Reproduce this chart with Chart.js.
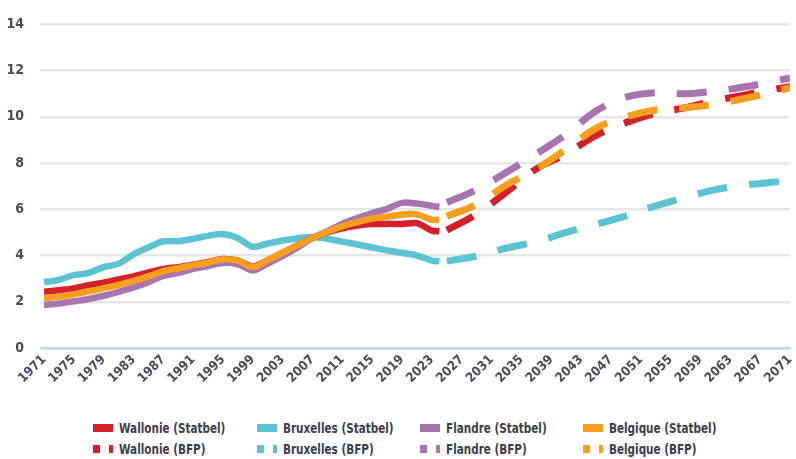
<!DOCTYPE html>
<html lang="fr">
<head>
<meta charset="UTF-8">
<title>Population en Belgique</title>
<script src="https://cdn.jsdelivr.net/npm/chart.js"></script>
<style>
    body {
        margin: 0;
        padding: 0;
        background: #ffffff;
        font-family: "Liberation Sans Narrow", "DejaVu Sans Condensed", "Roboto", sans-serif;
    }
    .wrap {
        position: relative;
        width: 796px;
        height: 459px;
    }
    #chart {
        position: absolute;
        left: 0;
        top: 0;
    }
    .legend-item {
        position: absolute;
        display: flex;
        align-items: center;
        font-weight: bold;
        font-size: 14.5px;
        color: #3e3d4b;
        white-space: nowrap;
    }
    .legend-item .txt {
        display: inline-block;
        transform: scaleX(0.8);
        transform-origin: left center;
    }
    .mark {
        position: relative;
        width: 20px;
        height: 8px;
        margin-right: 6px;
    }
    .mark span {
        position: absolute;
        top: 0;
        height: 8px;
    }
</style>
</head>
<body>
<div class="wrap">
    <canvas id="chart" width="796" height="400"></canvas>
    <div id="legend"></div>
</div>

<script>
// observed series (Statbel)
const statbelYears = [1971, 1973, 1975, 1977, 1979, 1981, 1983, 1985, 1987, 1989, 1991, 1993, 1995, 1997,
    1999, 2001, 2003, 2005, 2007, 2009, 2011, 2013, 2015, 2017, 2019, 2021, 2023, 2024];
const walStatbel = [2.43, 2.50, 2.58, 2.72, 2.83, 2.97, 3.10, 3.27, 3.42, 3.50, 3.60, 3.72, 3.85, 3.78,
    3.52, 3.80, 4.12, 4.45, 4.76, 5.00, 5.18, 5.30, 5.36, 5.37, 5.37, 5.40, 5.08, 5.05];
const bxlStatbel = [2.85, 2.95, 3.15, 3.25, 3.50, 3.65, 4.05, 4.35, 4.62, 4.62, 4.72, 4.85, 4.93, 4.75,
    4.38, 4.52, 4.65, 4.75, 4.80, 4.72, 4.60, 4.48, 4.35, 4.22, 4.12, 4.00, 3.78, 3.75];
const flaStatbel = [1.87, 1.92, 2.02, 2.12, 2.26, 2.43, 2.62, 2.85, 3.12, 3.25, 3.42, 3.55, 3.68, 3.62,
    3.35, 3.65, 3.98, 4.35, 4.76, 5.05, 5.38, 5.62, 5.84, 6.02, 6.28, 6.25, 6.15, 6.10];
const belStatbel = [2.16, 2.22, 2.33, 2.45, 2.59, 2.73, 2.90, 3.10, 3.33, 3.45, 3.58, 3.70, 3.84, 3.78,
    3.50, 3.80, 4.12, 4.45, 4.76, 5.02, 5.27, 5.45, 5.60, 5.68, 5.78, 5.78, 5.55, 5.55];

// projections (BFP)
const bfpYears = [2025, 2029, 2033, 2037, 2041, 2045, 2049, 2053, 2057, 2061, 2065, 2069, 2071];
const walBfp = [5.10, 5.80, 6.75, 7.75, 8.40, 9.20, 9.75, 10.15, 10.40, 10.70, 10.95, 11.20, 11.30];
const bxlBfp = [3.76, 3.98, 4.32, 4.60, 5.00, 5.35, 5.72, 6.15, 6.52, 6.85, 7.05, 7.18, 7.25];
const flaBfp = [6.30, 6.85, 7.60, 8.40, 9.25, 10.25, 10.85, 11.05, 11.00, 11.12, 11.30, 11.55, 11.68];
const belBfp = [5.70, 6.22, 7.05, 7.75, 8.60, 9.50, 10.00, 10.30, 10.40, 10.55, 10.80, 11.10, 11.25];

const regionNames = ['Wallonie', 'Bruxelles', 'Flandre', 'Belgique'];
const regionColors = ['#d3202b', '#5bc3d2', '#a874b0', '#f59f1d'];
const drawOrder = [3, 4, 2, 1];   // lower = drawn on top

const FONT = '"Liberation Sans Narrow", "DejaVu Sans Condensed", Roboto, sans-serif';

function points(years, values) {
    return years.map(function (yr, i) { return { x: yr, y: values[i] }; });
}

const statbelSeries = [walStatbel, bxlStatbel, flaStatbel, belStatbel];
const bfpSeries = [walBfp, bxlBfp, flaBfp, belBfp];

var datasets = [];
regionNames.forEach(function (name, i) {
    datasets.push({
        label: name + ' (Statbel)',
        data: points(statbelYears, statbelSeries[i]),
        borderColor: regionColors[i],
        backgroundColor: regionColors[i],
        borderWidth: 6.5,
        pointRadius: 0,
        tension: 0.3,
        borderJoinStyle: 'round',
        order: drawOrder[i]
    });
});
regionNames.forEach(function (name, i) {
    datasets.push({
        label: name + ' (BFP)',
        data: points(bfpYears, bfpSeries[i]),
        borderColor: regionColors[i],
        backgroundColor: regionColors[i],
        borderWidth: 7,
        borderDash: [30, 22],
        borderCapStyle: 'butt',
        pointRadius: 0,
        tension: 0.4,
        order: drawOrder[i]
    });
});

var ctx = document.getElementById('chart').getContext('2d');
var myChart = new Chart(ctx, {
    type: 'line',
    data: { datasets: datasets },
    options: {
        responsive: false,
        animation: false,
        layout: { padding: { top: 20, right: 6, left: 0, bottom: 0 } },
        plugins: {
            legend: { display: false },
            tooltip: { enabled: false }
        },
        scales: {
            x: {
                type: 'linear',
                min: 1971,
                max: 2071,
                grid: { display: false, drawTicks: false },
                border: { display: true, color: '#c9d5ea', width: 2.5 },
                ticks: {
                    stepSize: 4,
                    autoSkip: false,
                    maxRotation: 45,
                    minRotation: 45,
                    padding: 4,
                    color: '#4b4a58',
                    font: { family: FONT, size: 13, weight: 'bold' },
                    callback: function (v) { return String(v); }
                },
                afterFit: function (scale) {
                    scale.height = 52;
                    scale.paddingRight = 6;
                }
            },
            y: {
                min: 0,
                max: 14,
                border: { display: false },
                grid: {
                    color: function (c) { return c.tick && c.tick.value === 0 ? '#c9d5ea' : '#e6e6e6'; },
                    lineWidth: 2.5,
                    tickLength: 4
                },
                ticks: {
                    stepSize: 2,
                    padding: 16,
                    color: '#4b4a58',
                    font: { family: FONT, size: 14, weight: 'bold' }
                },
                afterFit: function (scale) {
                    scale.width = 44;
                }
            }
        }
    }
});

// legend: 4 columns x 2 rows
var legendEl = document.getElementById('legend');
var colX = [93, 257, 420, 583];
var rowY = [420, 441];
regionNames.forEach(function (name, i) {
    ['Statbel', 'BFP'].forEach(function (src, r) {
        var item = document.createElement('div');
        item.className = 'legend-item';
        item.style.left = colX[i] + 'px';
        item.style.top = rowY[r] + 'px';
        var mark = document.createElement('div');
        mark.className = 'mark';
        if (r === 0) {
            mark.innerHTML = '<span style="left:0;width:20px;background:' + regionColors[i] + '"></span>';
        } else {
            mark.innerHTML = '<span style="left:0;width:7px;background:' + regionColors[i] + '"></span>' +
                '<span style="left:16px;width:4px;background:' + regionColors[i] + '"></span>';
        }
        item.appendChild(mark);
        var txt = document.createElement('span');
        txt.className = 'txt';
        txt.textContent = name + ' (' + src + ')';
        item.appendChild(txt);
        legendEl.appendChild(item);
    });
});
</script>
</body>
</html>
